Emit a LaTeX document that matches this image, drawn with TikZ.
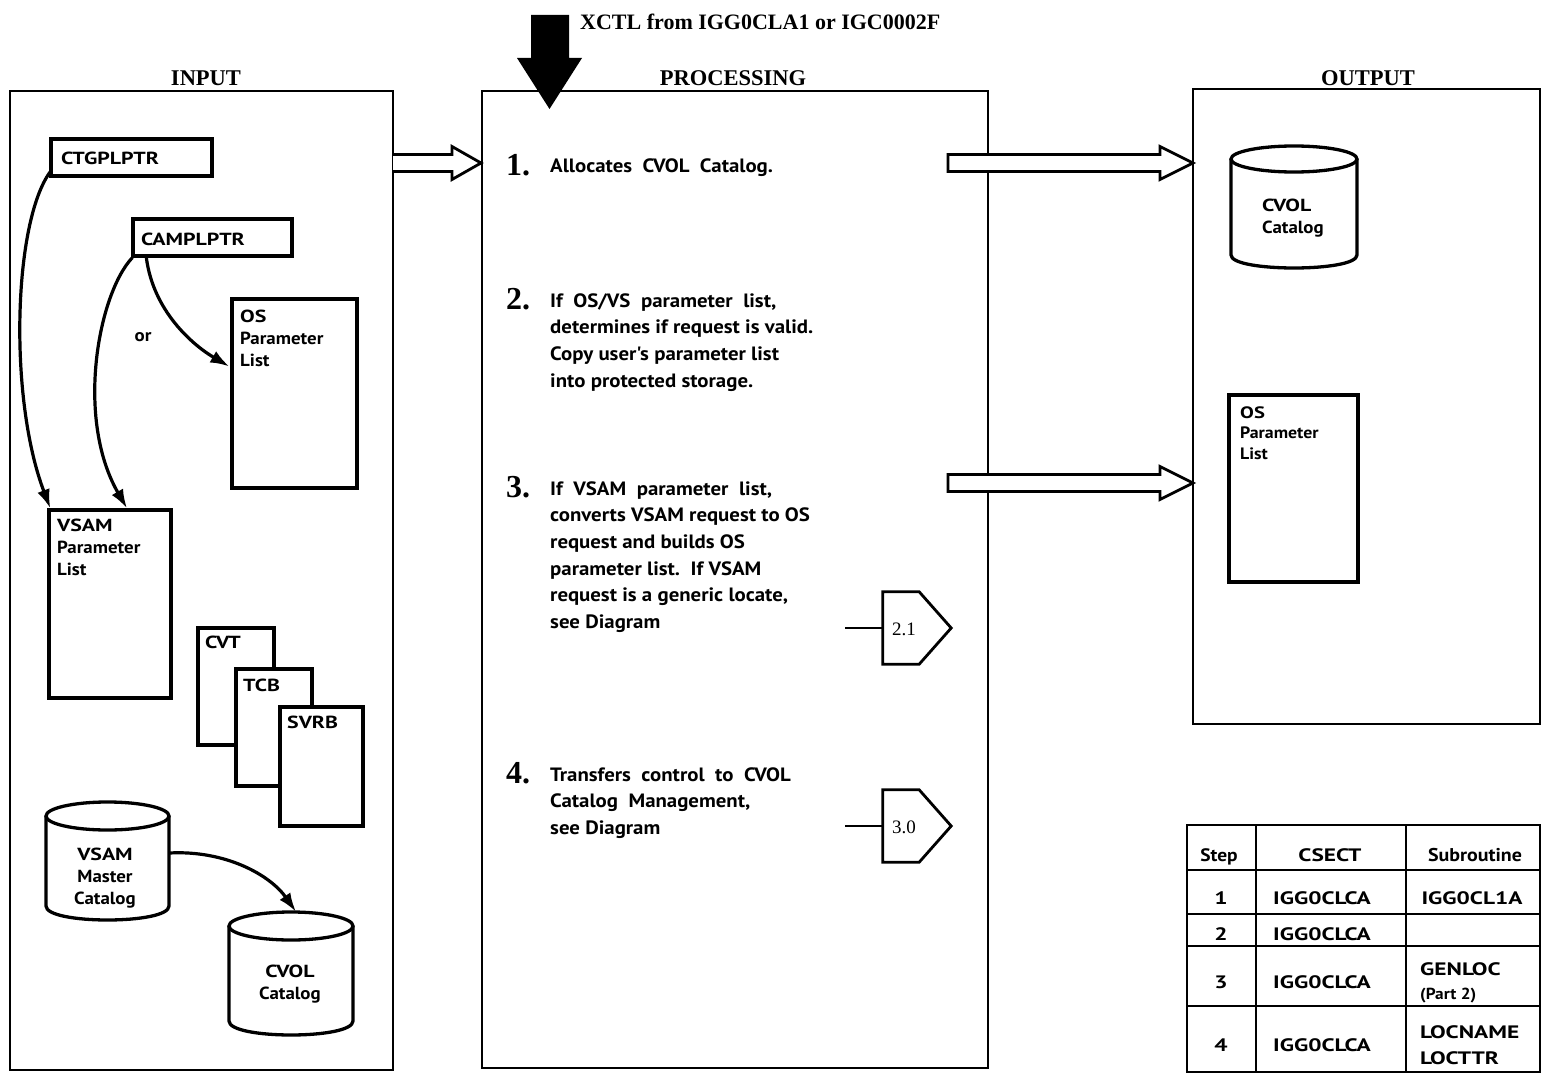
\documentclass[tikz,border=0pt]{standalone}
\usepackage{fontspec}
\setmainfont{Liberation Serif}
\newfontfamily\sansf{PT Sans}[FakeStretch=1.08]
\newfontfamily\capsf{PT Sans}[FakeStretch=1.25]
\newfontfamily\tabsf{PT Sans}[FakeStretch=1.3]
\usetikzlibrary{arrows.meta,calc}
\newcommand\mystrut{\rule{0pt}{16pt}}
\newcommand\cw[1]{{\capsf\bfseries #1}}
\newcommand\drawcyl[5]{%
  \pgfmathsetmacro\cylrx{(#2-#1)/2}%
  \pgfmathsetmacro\cylcx{(#1+#2)/2}%
  \filldraw[cylst] (#1,#3+#5) -- (#1,#4-#5) .. controls (#1,#4+#5/3) and (#2,#4+#5/3) .. (#2,#4-#5) -- (#2,#3+#5);
  \filldraw[cylst] (\cylcx,#3+#5) ellipse [x radius=\cylrx pt, y radius=#5 pt];
}
\tikzset{
  panel/.style={draw, line width=2.8pt, inner sep=0pt},
  box/.style={draw, line width=3.3pt, fill=white, inner sep=0pt},
  ghost/.style={inner sep=0pt},
  cylst/.style={draw, line width=3.3pt, fill=white},
  ttl/.style={font=\bfseries\fontsize{22.5}{26}\selectfont, inner sep=0pt, anchor=base},
  stepnum/.style={font=\bfseries\fontsize{32}{32}\selectfont, inner sep=0pt, anchor=base west},
  body/.style={font=\sansf\bfseries\fontsize{19.3}{26.6}\selectfont, inner sep=0pt, anchor=north west, align=left},
  lbl/.style={font=\sansf\bfseries\fontsize{17.5}{22}\selectfont, inner sep=0pt, anchor=north west, align=left},
  ptr/.style={line width=3.2pt, -{Latex[length=19pt,width=13pt]}},
  hollow/.style={draw, line width=2.8pt, fill=white, line join=miter},
  conbox/.style={draw, line width=2.8pt, fill=white},
  conn/.style={font=\fontsize{19}{19}\selectfont, inner sep=0pt},
  tabt/.style={font=\tabsf\bfseries\fontsize{18}{24}\selectfont, inner sep=0pt, anchor=base},
  tabl/.style={font=\tabsf\bfseries\fontsize{18}{24}\selectfont, inner sep=0pt, anchor=base west},
  tline/.style={line width=2.6pt},
}
\begin{document}
\begin{tikzpicture}[x=1pt,y=-1pt]
\useasboundingbox (0,0) rectangle (1543,1081);
\fill[white] (0,0) rectangle (1543,1081);

% titles
\node[ttl] (tin) at (206,85) {INPUT};
\node[ttl] (tproc) at (733,85) {PROCESSING};
\node[ttl] (tout) at (1368,85) {OUTPUT};
\node[font=\bfseries\fontsize{22}{24}\selectfont, inner sep=0pt, anchor=base west] (xctl) at (580,30) {XCTL from IGG0CLA1 or IGC0002F};

% panels
\node[panel, minimum width=383pt, minimum height=979pt] (inp) at (201.5,580.5) {};
\node[panel, minimum width=506pt, minimum height=977pt] (proc) at (735,579.5) {};
\node[panel, minimum width=347pt, minimum height=635pt] (outp) at (1366.5,406.5) {};

% big entry arrow
\fill (531,15) -- (569,15) -- (569,58) -- (582,58) -- (549.5,109) -- (517,58) -- (531,58) -- cycle;

% hollow arrows
\filldraw[hollow] (393,154.5) -- (452,154.5) -- (452,146.5) -- (481,163) -- (452,179.5) -- (452,171.5) -- (393,171.5);
\filldraw[hollow] (948,154.5) -- (1160,154.5) -- (1160,146.5) -- (1193,163) -- (1160,179.5) -- (1160,171.5) -- (948,171.5) -- cycle;
\filldraw[hollow] (948,474.5) -- (1160,474.5) -- (1160,466.5) -- (1193,483) -- (1160,499.5) -- (1160,491.5) -- (948,491.5) -- cycle;

% ---------- INPUT ----------
\node[box, minimum width=161pt, minimum height=37pt] (ctg) at (131.5,157.5) {};
\node[lbl, anchor=base west] (ctgt) at (61,164) {\cw{CTGPLPTR}};
\node[box, minimum width=159pt, minimum height=37pt] (cam) at (212.5,237.5) {};
\node[lbl, anchor=base west] (camt) at (141,245) {\cw{CAMPLPTR}};

\node[box, minimum width=125pt, minimum height=189pt] (ospl) at (294.5,393.5) {};
\node[lbl] (osplt) at (240,322-16) {\mystrut\cw{OS}\\Parameter\\List};
\node[box, minimum width=122pt, minimum height=188pt] (vpl) at (110,604) {};
\node[lbl] (vplt) at (57,531-16) {\mystrut\cw{VSAM}\\Parameter\\List};

\node[font=\sansf\bfseries\fontsize{17.5}{20}\selectfont, inner sep=0pt, anchor=base] (ort) at (143,341) {or};

\node[box, minimum width=76pt, minimum height=117pt] (cvt) at (236,686.5) {};
\node[lbl, anchor=base west] (cvtt) at (205,648) {\cw{CVT}};
\node[box, minimum width=76pt, minimum height=117pt] (tcb) at (274,727.5) {};
\node[lbl, anchor=base west] (tcbt) at (243,691) {\cw{TCB}};
\node[box, minimum width=83pt, minimum height=119pt] (svrb) at (321.5,766.5) {};
\node[lbl, anchor=base west] (svrbt) at (287,728) {\cw{SVRB}};

\drawcyl{46}{169}{802}{920}{14}
\node[ghost, minimum width=123pt, minimum height=118pt] (vmc) at (107.5,861) {};
\node[lbl, align=center, anchor=north] (vmct) at (105,860-16) {\mystrut\cw{VSAM}\\Master\\Catalog};

\drawcyl{229}{353}{912}{1035}{14}
\node[ghost, minimum width=124pt, minimum height=123pt] (cvin) at (291,973.5) {};
\node[lbl, align=center, anchor=north] (cvint) at (290,977-16) {\mystrut\cw{CVOL}\\Catalog};

% input connectors
\draw[ptr] ($(ctg.south west)+(1,-6)$) .. controls +(-37,50) and +(-42,-110) .. ($(vpl.north west)+(3,0)$);
\draw[ptr] ($(cam.south west)+(1,0)$) .. controls +(-34,36) and +(-52,-90) .. ($(vpl.north)+(17,0)$);
\draw[ptr] ($(cam.south west)+(15,0)$) .. controls +(7,54) and +(-36,-21) .. ($(ospl.west)+(-1,-27)$);
\draw[ptr] ($(vmc.east)+(0,-8)$) .. controls +(56,-3) and +(-26,-37) .. ($(cvin.north)+(5,0)$);

% ---------- PROCESSING ----------
\node[stepnum] (n1) at (506,175) {1.};
\node[body] (s1) at (550,172-16) {\mystrut Allocates\ \ CVOL\ \ Catalog.};
\node[stepnum] (n2) at (506,309) {2.};
\node[body] (s2) at (550,307-16) {\mystrut If\ \ OS/VS\ \ parameter\ \ list,\\determines if request is valid.\\Copy user's parameter list\\into protected storage.};
\node[stepnum] (n3) at (506,497) {3.};
\node[body] (s3) at (550,495-16) {\mystrut If\ \ VSAM\ \ parameter\ \ list,\\converts VSAM request to OS\\request and builds OS\\parameter list.\ \ If VSAM\\request is a generic locate,\\see Diagram};
\node[stepnum] (n4) at (506,783) {4.};
\node[body] (s4) at (550,781-16) {\mystrut Transfers\ \ control\ \ to\ \ CVOL\\Catalog\ \ Management,\\see Diagram};

% off-page connectors
\node[ghost, minimum width=36pt, minimum height=72pt] (c21) at (901,628) {};
\draw[conbox] (c21.north west) -- (c21.north east) -- ($(c21.east)+(32,0)$) -- (c21.south east) -- (c21.south west) -- cycle;
\node[conn] (c21t) at (904,629) {2.1};
\coordinate (c21in) at (845,628);
\draw[line width=2.6pt] (c21in) -- (c21.west);

\node[ghost, minimum width=36pt, minimum height=72pt] (c30) at (901,826) {};
\draw[conbox] (c30.north west) -- (c30.north east) -- ($(c30.east)+(32,0)$) -- (c30.south east) -- (c30.south west) -- cycle;
\node[conn] (c30t) at (904,827) {3.0};
\coordinate (c30in) at (845,826);
\draw[line width=2.6pt] (c30in) -- (c30.west);

% ---------- OUTPUT ----------
\drawcyl{1231}{1357}{146}{268}{13}
\node[ghost, minimum width=126pt, minimum height=122pt] (cvout) at (1294,207) {};
\node[lbl] (cvoutt) at (1262,211-16) {\mystrut\cw{CVOL}\\Catalog};

\node[box, minimum width=129pt, minimum height=187pt] (osout) at (1293.5,488.5) {};
\node[lbl, font=\sansf\bfseries\fontsize{16.5}{20.5}\selectfont] (osoutt) at (1240,418-16) {\mystrut\cw{OS}\\Parameter\\List};

% ---------- TABLE ----------
\node[draw, line width=2.8pt, minimum width=353pt, minimum height=247pt, inner sep=0pt] (tbl) at (1363.5,948.5) {};
\draw[tline] (1187,870) -- (1540,870);
\draw[tline] (1187,914) -- (1540,914);
\draw[tline] (1187,946) -- (1540,946);
\draw[tline] (1187,1006) -- (1540,1006);
\draw[tline] (1256,825) -- (1256,1072);
\draw[tline] (1406,825) -- (1406,1072);

\node[tabt, font=\sansf\bfseries\fontsize{18}{24}\selectfont] (h1) at (1219,861) {Step};
\node[tabt] (h2) at (1330,861) {CSECT};
\node[tabt, font=\sansf\bfseries\fontsize{18.5}{24}\selectfont] (h3) at (1475,861) {Subroutine};

\node[tabt] (r1a) at (1221,904) {1};
\node[tabt] (r1b) at (1322,904) {IGG0CLCA};
\node[tabt] (r1c) at (1472,904) {IGG0CL1A};

\node[tabt] (r2a) at (1221,940) {2};
\node[tabt] (r2b) at (1322,940) {IGG0CLCA};

\node[tabt] (r3a) at (1221,988) {3};
\node[tabt] (r3b) at (1322,988) {IGG0CLCA};
\node[tabl] (r3c) at (1420,975) {GENLOC};
\node[tabl, font=\sansf\bfseries\fontsize{16}{18}\selectfont] (r3d) at (1420,999) {(Part 2)};

\node[tabt] (r4a) at (1221,1051) {4};
\node[tabt] (r4b) at (1322,1051) {IGG0CLCA};
\node[tabl] (r4c) at (1420,1038) {LOCNAME};
\node[tabl] (r4d) at (1420,1064) {LOCTTR};
\end{tikzpicture}
\end{document}
